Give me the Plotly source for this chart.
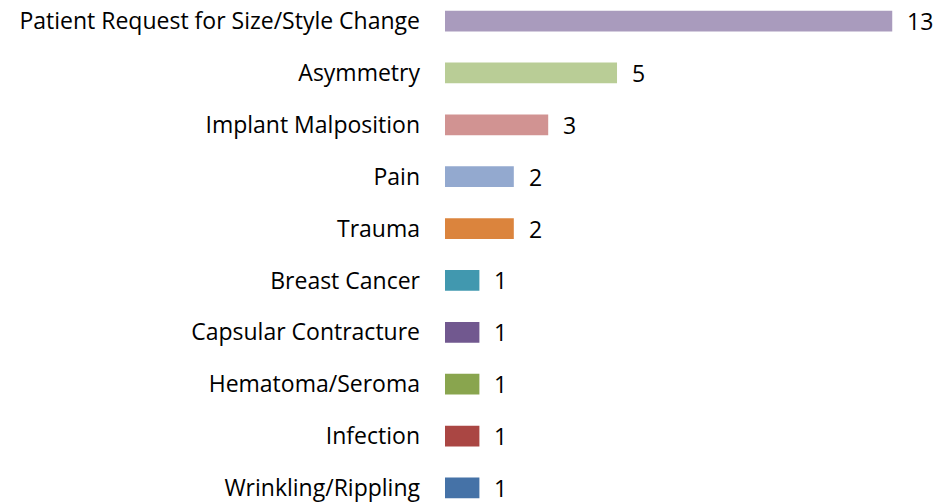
import plotly.graph_objects as go

categories = [
    "Patient Request for Size/Style Change",
    "Asymmetry",
    "Implant Malposition",
    "Pain",
    "Trauma",
    "Breast Cancer",
    "Capsular Contracture",
    "Hematoma/Seroma",
    "Infection",
    "Wrinkling/Rippling",
]
counts = [13, 5, 3, 2, 2, 1, 1, 1, 1, 1]
colors = [
    "#A99BBD", "#B9CD96", "#D19392", "#93A9CF", "#DB843D",
    "#4198AF", "#71588F", "#89A54E", "#AA4643", "#4572A7",
]

FONT = "Open Sans"
FS = 23

fig = go.Figure()
fig.add_trace(go.Bar(
    x=counts,
    y=categories,
    orientation="h",
    marker=dict(color=colors, line=dict(width=0)),
    width=0.4,
    hoverinfo="x+y",
))

for c, v in zip(categories, counts):
    fig.add_annotation(
        x=v, y=c, text=str(v), showarrow=False,
        xanchor="left", yanchor="middle", xshift=13,
        font=dict(family=FONT, size=FS, color="#000000"),
    )

fig.update_layout(
    width=938, height=502,
    margin=dict(l=445, r=0, t=0, b=0),
    paper_bgcolor="white", plot_bgcolor="white",
    showlegend=False,
    font=dict(family=FONT, size=FS, color="#000000"),
    xaxis=dict(range=[0, 14.33], visible=False, fixedrange=True),
    yaxis=dict(
        type="category",
        categoryorder="array",
        categoryarray=categories,
        range=[9.27, -0.405],
        showline=False, showgrid=False, zeroline=False,
        ticks="", ticklabelstandoff=24,
        tickfont=dict(family=FONT, size=FS, color="#000000"),
        fixedrange=True,
    ),
)

fig.write_html(
    "out.html",
    config={"displayModeBar": False},
    post_script="document.body.style.margin='0px';document.body.style.overflow='hidden';",
)
